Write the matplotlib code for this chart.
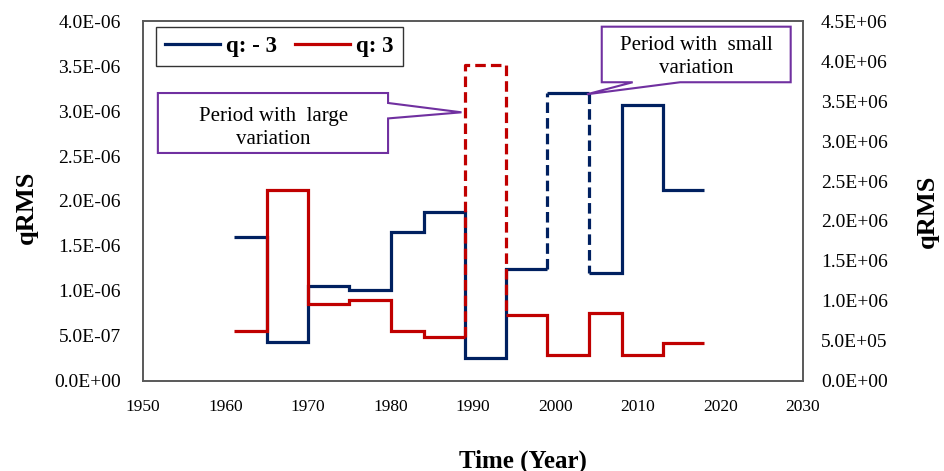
import matplotlib
matplotlib.use('Agg')

import matplotlib.pyplot as plt
from matplotlib.lines import Line2D
from matplotlib.patches import Polygon
from matplotlib.ticker import FuncFormatter

plt.rcParams['font.family'] = 'Liberation Serif'

# step edges (years) and values of each period
years = [1961, 1965, 1970, 1975, 1980, 1984, 1989, 1994, 1999, 2004, 2008, 2013, 2018]
q_neg3 = [1.60e-6, 0.427e-6, 1.05e-6, 1.003e-6, 1.652e-6, 1.875e-6,
          0.253e-6, 1.245e-6, 3.205e-6, 1.20e-6, 3.064e-6, 2.128e-6]
q_pos3 = [0.623e6, 2.385e6, 0.953e6, 1.015e6, 0.618e6, 0.548e6,
          3.96e6, 0.815e6, 0.326e6, 0.84e6, 0.326e6, 0.472e6]

left_ticks = [i * 0.5e-6 for i in range(9)]
right_ticks = [i * 0.5e6 for i in range(10)]
x_ticks = list(range(1950, 2031, 10))

BLUE = '#002060'
RED = '#C00000'
PURPLE = '#7030A0'
LW = 2.3


def draw_steps(ax, edges, vals, color, dashed_h=(), dashed_v=()):
    segs = []
    for i, v in enumerate(vals):
        segs.append(((edges[i], v), (edges[i + 1], v), i in dashed_h))
        if i < len(vals) - 1:
            segs.append(((edges[i + 1], v), (edges[i + 1], vals[i + 1]), i in dashed_v))
    runs = []
    for a, b, d in segs:
        if runs and runs[-1][0] == d:
            runs[-1][1].append(b)
        else:
            runs.append([d, [a, b]])
    for d, pts in runs:
        xs, ys = zip(*pts)
        ax.plot(xs, ys, color=color, lw=LW,
                ls=(0, (3.3, 1.6)) if d else '-',
                solid_joinstyle='miter', solid_capstyle='butt',
                dash_capstyle='butt')


fig = plt.figure(figsize=(9.44, 4.71), dpi=100)
ax = fig.add_axes([0.1515, 0.1921, 0.6992, 0.7623])
ax2 = ax.twinx()

draw_steps(ax, years, q_neg3, BLUE, dashed_v=(7, 8))
draw_steps(ax2, years, q_pos3, RED, dashed_h=(6,), dashed_v=(5, 6))

ax.set_xlim(1950, 2030)
ax.set_ylim(0, 4e-6)
ax2.set_ylim(0, 4.5e6)
ax.set_xticks(x_ticks)
ax.set_yticks(left_ticks)
ax2.set_yticks(right_ticks)
fmt = FuncFormatter(lambda v, p: f"{v:.1E}")
ax.yaxis.set_major_formatter(fmt)
ax2.yaxis.set_major_formatter(fmt)

ax.tick_params(axis='y', length=0, pad=16, labelsize=14)
ax.tick_params(axis='x', length=0, pad=13, labelsize=12.5)
ax2.tick_params(axis='y', length=0, pad=13, labelsize=14)

for a in (ax, ax2):
    for s in a.spines.values():
        s.set_color('#595959')
        s.set_linewidth(1.2)

ax.set_ylabel('qRMS', fontsize=19, fontweight='bold', va='center')
ax.yaxis.set_label_coords(-0.177, 0.483)
ax2.set_ylabel('qRMS', fontsize=19, fontweight='bold', rotation=90, va='center')
ax2.yaxis.set_label_coords(1.189, 0.472)
fig.text(523 / 944, 1 - 461 / 471, 'Time (Year)', fontsize=18,
         fontweight='bold', ha='center', va='center')

handles = [Line2D([], [], color=BLUE, lw=LW), Line2D([], [], color=RED, lw=LW)]
leg = ax2.legend(handles, ['q: - 3', 'q: 3'], ncol=2, loc='upper left',
                 bbox_to_anchor=(156 / 944, 1 - 27 / 471),
                 bbox_transform=fig.transFigure, borderaxespad=0,
                 prop={'size': 16.5, 'weight': 'bold'}, fancybox=False,
                 handlelength=2.4, handletextpad=0.25, columnspacing=0.8,
                 borderpad=0.4)
leg.get_frame().set_edgecolor('black')
leg.get_frame().set_linewidth(1.0)

# callout shapes (data coordinates of the left axis)
big = [(1951.8, 3.203e-6), (1979.7, 3.203e-6), (1979.7, 3.092e-6),
       (1988.6, 2.988e-6), (1979.7, 2.920e-6), (1979.7, 2.535e-6),
       (1951.8, 2.535e-6)]
small = [(2005.6, 3.942e-6), (2028.5, 3.942e-6), (2028.5, 3.323e-6),
         (2015.1, 3.323e-6), (2003.8, 3.189e-6), (2009.35, 3.323e-6),
         (2005.6, 3.323e-6)]
for pts in (big, small):
    ax2.add_patch(Polygon(pts, closed=True, facecolor='white', edgecolor=PURPLE,
                          lw=1.5, transform=ax.transData, zorder=5))
ax2.text(1965.8, 2.81e-6, 'Period with  large\nvariation', transform=ax.transData,
         ha='center', va='center', fontsize=15, linespacing=1.3, zorder=6)
ax2.text(2017.05, 3.60e-6, 'Period with  small\nvariation', transform=ax.transData,
         ha='center', va='center', fontsize=15, linespacing=1.3, zorder=6)

fig.savefig('out.png', dpi=100)
plt.close(fig)
